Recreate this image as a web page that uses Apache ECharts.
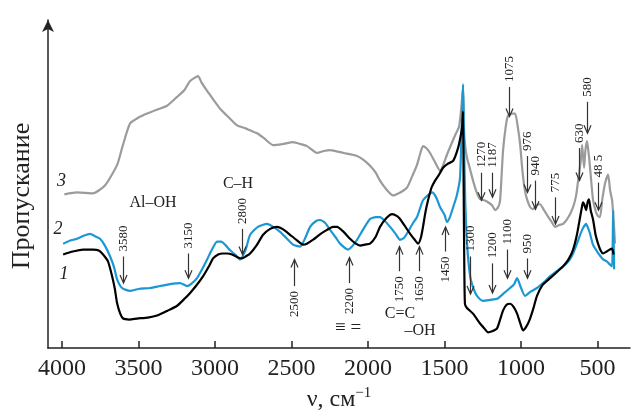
<!DOCTYPE html>
<html>
<head>
<meta charset="utf-8">
<script src="https://cdn.jsdelivr.net/npm/echarts@6/dist/echarts.min.js"></script>
<style>
  html, body { margin: 0; padding: 0; background: #fff; }
  #main { width: 631px; height: 417px; }
</style>
</head>
<body>
<div id="main"></div>
<script>
// IR spectra, wavenumber (cm-1) vs transmittance (arb. units)
var wn3 = [3985, 3900, 3800, 3720, 3640, 3608, 3556, 3500, 3444, 3380, 3314, 3248, 3200, 3163, 3111, 3090, 3052, 3010, 2967, 2910, 2856, 2800, 2771, 2725, 2680, 2621, 2560, 2490, 2440, 2399, 2333, 2290, 2248, 2160, 2072, 2030, 1987, 1950, 1922, 1880, 1837, 1790, 1745, 1710, 1680, 1660, 1641, 1620, 1595, 1560, 1529, 1516, 1480, 1431, 1405, 1390, 1379, 1373, 1365, 1353, 1334, 1314, 1290, 1268, 1240, 1216, 1190, 1170, 1150, 1137, 1118, 1100, 1085, 1060, 1039, 1020, 1005, 993, 975, 961, 940, 922, 900, 876, 850, 830, 800, 778, 750, 725, 690, 660, 640, 627, 610, 601, 595, 588, 580, 569, 560, 549, 539, 529, 510, 497, 484, 470, 464, 450, 431, 418, 405, 395, 386];
var t3 = [156, 158, 157, 165, 186, 203, 228, 234, 238, 242, 246, 255, 262, 271, 276, 270, 261, 252, 243, 234, 226, 223, 221, 218, 213, 206, 207, 209, 207, 205, 198, 200, 201, 198, 195, 191, 185, 178, 170, 161, 155, 158, 163, 175, 186, 197, 205, 203, 198, 188, 180, 183, 198, 216, 225, 245, 266, 223, 205, 193, 182, 170, 158, 151, 150, 148, 145, 140, 143, 150, 200, 225, 236, 238, 238, 223, 205, 183, 160, 151, 143, 141, 145, 146, 140, 135, 128, 123, 125, 126, 133, 143, 155, 170, 190, 206, 195, 183, 200, 210, 200, 183, 165, 150, 138, 134, 133, 150, 156, 168, 176, 160, 150, 130, 106];

var wn2 = [3993, 3950, 3902, 3860, 3817, 3790, 3752, 3720, 3686, 3660, 3641, 3608, 3556, 3500, 3425, 3360, 3294, 3229, 3183, 3150, 3118, 3085, 3052, 3020, 2987, 2960, 2935, 2900, 2869, 2837, 2800, 2771, 2720, 2660, 2620, 2575, 2530, 2490, 2444, 2410, 2379, 2340, 2314, 2280, 2248, 2210, 2183, 2131, 2100, 2072, 2030, 1987, 1950, 1922, 1890, 1856, 1820, 1791, 1765, 1739, 1710, 1680, 1660, 1641, 1610, 1582, 1555, 1529, 1500, 1484, 1465, 1444, 1420, 1399, 1385, 1379, 1373, 1365, 1353, 1333, 1310, 1288, 1249, 1200, 1157, 1110, 1072, 1045, 1026, 1000, 974, 940, 896, 850, 810, 760, 725, 690, 660, 630, 601, 575, 560, 549, 530, 503, 480, 464, 440, 420, 405, 398, 392];
var t2 = [106, 109, 111, 114, 116, 114, 111, 104, 93, 82, 70, 61, 58, 60, 61, 63, 65, 66, 63, 66, 71, 80, 90, 100, 108, 108, 105, 99, 95, 90, 100, 115, 123, 126, 123, 118, 111, 105, 103, 112, 123, 129, 130, 127, 120, 112, 106, 100, 104, 110, 121, 131, 133, 133, 129, 123, 116, 110, 112, 118, 126, 133, 142, 150, 155, 158, 153, 143, 135, 128, 133, 143, 155, 173, 240, 268, 210, 150, 106, 73, 60, 53, 48, 49, 50, 56, 61, 65, 71, 61, 53, 57, 61, 67, 73, 79, 83, 88, 96, 108, 120, 126, 121, 116, 105, 98, 93, 90, 88, 85, 83, 140, 80];

var wn1 = [3993, 3930, 3863, 3797, 3760, 3732, 3700, 3673, 3655, 3641, 3620, 3601, 3560, 3510, 3440, 3379, 3310, 3248, 3200, 3163, 3120, 3078, 3040, 3013, 2980, 2948, 2920, 2889, 2850, 2824, 2800, 2771, 2730, 2686, 2640, 2595, 2550, 2510, 2470, 2425, 2400, 2359, 2310, 2268, 2230, 2203, 2160, 2118, 2080, 2052, 2020, 1987, 1950, 1922, 1880, 1843, 1810, 1791, 1760, 1725, 1695, 1673, 1655, 1641, 1625, 1608, 1585, 1562, 1540, 1510, 1480, 1444, 1412, 1395, 1385, 1379, 1376, 1372, 1367, 1355, 1314, 1268, 1240, 1216, 1190, 1157, 1135, 1118, 1095, 1072, 1050, 1026, 1005, 987, 965, 941, 920, 896, 860, 810, 760, 725, 690, 660, 635, 614, 600, 595, 585, 575, 565, 556, 545, 529, 513, 497, 480, 464, 440, 420, 405, 395];
var t1 = [95, 98, 100, 100, 99, 95, 88, 73, 60, 46, 35, 30, 29, 30, 31, 33, 38, 43, 50, 56, 64, 73, 83, 91, 95, 96, 96, 95, 92, 91, 93, 96, 104, 115, 121, 123, 120, 115, 110, 105, 106, 110, 116, 120, 123, 123, 118, 111, 106, 104, 105, 106, 113, 123, 132, 136, 134, 131, 124, 116, 110, 106, 112, 123, 138, 150, 163, 170, 175, 183, 187, 190, 203, 215, 225, 240, 180, 100, 45, 41, 35, 25, 20, 16, 17, 20, 30, 38, 44, 45, 42, 35, 25, 18, 22, 30, 40, 53, 64, 71, 78, 83, 90, 100, 115, 133, 145, 148, 145, 140, 148, 151, 140, 130, 115, 106, 99, 96, 98, 100, 101, 95];

// band markers: label, position, arrow tail value, arrow tip value
var bandLabels = ['3580', '3150', '2800', '2500', '2200', '1750', '1650', '1450', '1300', '1200', '1100', '950', '1270', '1187', '1075', '976', '940', '775', '630', '580', '48 5'];
var bandPos = [3601, 3176, 2824, 2484, 2124, 1797, 1667, 1497, 1333, 1190, 1092, 961, 1261, 1190, 1078, 961, 908, 778, 621, 569, 497];
var bandTail = [93, 96, 121, 63, 66, 78, 78, 98, 93, 86, 100, 91, 178, 178, 265, 195, 170, 153, 203, 250, 168];
var bandTip = [66, 71, 95, 90, 92, 103, 103, 123, 55, 56, 71, 71, 150, 153, 235, 158, 141, 126, 170, 218, 140];

// text notes
var noteText = ['3', '2', '1', 'Al\u2013OH', 'C\u2013H', '\u2261 =', 'C=C', '\u2013OH'];
var notePos = [4004, 4026, 3987, 3405, 2850, 2131, 1791, 1660];
var noteVal = [169, 121, 75, 147, 167, 20, 35, 18];
var noteSize = [18, 18, 18, 16, 16, 19, 16, 16];
var noteItalic = [1, 1, 1, 0, 0, 0, 0, 0];

var xTicks = [500, 1000, 1500, 2000, 2500, 3000, 3500, 4000];

function zip(a, b) {
  return a.map(function (v, i) { return [v, b[i]]; });
}

var serif = '"Liberation Serif", "DejaVu Serif", serif';
var myChart = echarts.init(document.getElementById('main'));

var bandData = bandPos.map(function (p, i) { return [p, bandTail[i], bandTip[i], i]; });
var noteData = notePos.map(function (p, i) { return [p, noteVal[i], i]; });

var option = {
  animation: false,
  grid: { left: 48, right: 1, top: 20, bottom: 64 },
  xAxis: {
    type: 'value',
    inverse: true,
    min: 288,
    max: 4092,
    name: '{a|\u03bd, \u0441\u043c}{b|\u22121}',
    nameLocation: 'middle',
    nameGap: 34,
    nameTextStyle: {
      rich: {
        a: { fontFamily: serif, fontSize: 24, color: '#222', lineHeight: 28 },
        b: { fontFamily: serif, fontSize: 15, color: '#222', verticalAlign: 'top', lineHeight: 14 }
      }
    },
    axisLine: { lineStyle: { color: '#222', width: 1.5 } },
    axisTick: { inside: true, length: 7, customValues: xTicks, lineStyle: { color: '#222', width: 1.5 } },
    axisLabel: {
      customValues: xTicks,
      formatter: function (v) { return String(v); },
      fontFamily: serif, fontSize: 24, color: '#222', margin: 9
    },
    splitLine: { show: false }
  },
  yAxis: {
    type: 'value',
    min: 0,
    max: 333,
    axisLine: { show: true, symbol: ['none', 'arrow'], symbolSize: [9, 12], lineStyle: { color: '#222', width: 1.5 } },
    axisTick: { show: false },
    axisLabel: { show: false },
    splitLine: { show: false }
  },
  graphic: [{
    type: 'text',
    x: 22,
    y: 196,
    rotation: Math.PI / 2,
    style: { text: '\u041f\u0440\u043e\u043f\u0443\u0441\u043a\u0430\u043d\u0438\u0435', font: '26px ' + serif, fill: '#222', align: 'center', verticalAlign: 'middle' }
  }],
  series: [
    { name: '3', type: 'line', data: zip(wn3, t3), showSymbol: false, smooth: 0.2, lineStyle: { color: '#9b9b9b', width: 2.2 }, z: 2 },
    { name: '2', type: 'line', data: zip(wn2, t2), showSymbol: false, smooth: 0.2, lineStyle: { color: '#1b98d4', width: 2.2 }, z: 3 },
    { name: '1', type: 'line', data: zip(wn1, t1), showSymbol: false, smooth: 0.2, lineStyle: { color: '#000000', width: 2.2 }, z: 4 },
    {
      type: 'custom',
      z: 5,
      data: bandData,
      renderItem: function (params, api) {
        var tail = api.coord([api.value(0), api.value(1)]);
        var tip = api.coord([api.value(0), api.value(2)]);
        var dir = tip[1] > tail[1] ? 1 : -1;
        var x = Math.round(tip[0]) + 0.5;
        var label = bandLabels[api.value(3)];
        return {
          type: 'group',
          children: [
            { type: 'line', shape: { x1: x, y1: tail[1], x2: x, y2: tip[1] }, style: { stroke: '#333', lineWidth: 1.2 } },
            { type: 'polyline', shape: { points: [[x - 3.5, tip[1] - dir * 8], [x, tip[1]], [x + 3.5, tip[1] - dir * 8]] }, style: { stroke: '#333', lineWidth: 1.2, fill: null } },
            {
              type: 'text',
              x: x,
              y: tail[1] - dir * 5,
              rotation: Math.PI / 2,
              style: { text: label, font: '13px ' + serif, fill: '#222', align: dir > 0 ? 'left' : 'right', verticalAlign: 'middle' }
            }
          ]
        };
      }
    },
    {
      type: 'custom',
      z: 5,
      data: noteData,
      renderItem: function (params, api) {
        var p = api.coord([api.value(0), api.value(1)]);
        var i = api.value(2);
        return {
          type: 'text',
          x: p[0],
          y: p[1],
          style: {
            text: noteText[i],
            font: (noteItalic[i] ? 'italic ' : '') + noteSize[i] + 'px ' + serif,
            fill: '#222',
            align: 'center',
            verticalAlign: 'middle'
          }
        };
      }
    }
  ]
};

myChart.setOption(option);
</script>
</body>
</html>
